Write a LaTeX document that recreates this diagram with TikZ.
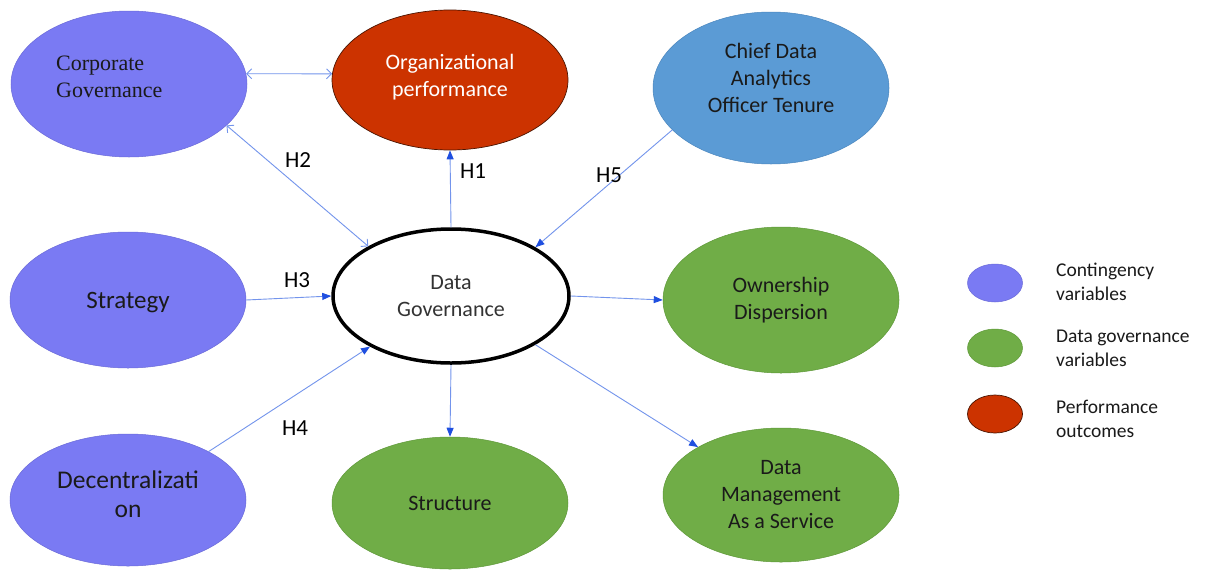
\documentclass[tikz,border=0pt]{standalone}
\usepackage{fontspec}
\setmainfont{Carlito}
\newfontfamily\serifface{Liberation Serif}
\usetikzlibrary{shapes.geometric,arrows.meta,calc}
\definecolor{contc}{HTML}{7A7AF3}
\definecolor{contb}{HTML}{6A6AD8}
\definecolor{perfc}{HTML}{CC3300}
\definecolor{perfb}{HTML}{4A1400}
\definecolor{ceoc}{HTML}{5B9BD5}
\definecolor{ceob}{HTML}{4A86BE}
\definecolor{dgvc}{HTML}{70AD47}
\definecolor{dgvb}{HTML}{5E9838}
\definecolor{linec}{HTML}{7394EC}
\definecolor{headc}{HTML}{1F4FE0}
\definecolor{inkc}{HTML}{1A1A1A}
\newcommand{\fsz}[2]{\fontsize{#1pt}{#2pt}\selectfont}
\tikzset{
  oval/.style={ellipse, inner sep=0pt, align=center, text=inkc,
    minimum width=236pt, minimum height=#1, font=\fsz{22}{27}},
  caption/.style={align=center, inner sep=0pt, text=inkc, font=\fsz{22}{27}},
  contv/.style={fill=contc, draw=contb, line width=0.5pt},
  perfv/.style={fill=perfc, draw=perfb, line width=0.7pt},
  ceov/.style={fill=ceoc, draw=ceob, line width=0.5pt},
  dgv/.style={fill=dgvc, draw=dgvb, line width=0.5pt},
  link/.style={draw=linec, line width=0.9pt,
    -{Triangle[length=9pt,width=7pt,color=headc]}},
  twoway/.style={draw=linec, line width=0.9pt,
    {Straight Barb[length=5pt,width=10pt]}-{Straight Barb[length=5pt,width=10pt]}},
  hyp/.style={font=\fsz{23}{27}, text=black, inner sep=0pt},
  legdot/.style={ellipse, minimum width=55pt, minimum height=38pt, inner sep=0pt},
  legtext/.style={anchor=west, align=left, font=\fsz{19.5}{24}, text=inkc, inner sep=0pt}
}
\begin{document}
\begin{tikzpicture}[x=1pt,y=-1pt]
\useasboundingbox[fill=white] (0,0) rectangle (1206,570);

% variables: ellipses
\node[oval=146pt, contv] (cg) at (129,84) {};
\node[oval=140pt, perfv] (org) at (450,80) {};
\node[oval=152pt, ceov] (cdo) at (771,88) {};
\node[oval=136pt, contv] (st) at (128,300) {};
\node[oval=134pt, draw=black, line width=3.5pt, fill=white] (dg) at (451,296) {};
\node[oval=146pt, dgv] (own) at (781,300) {};
\node[oval=132pt, contv] (dec) at (128,500) {};
\node[oval=132pt, dgv] (str) at (450,503) {};
\node[oval=134pt, dgv] (dm) at (781,495) {};

% variables: names
\node[anchor=west, align=left, font=\serifface\fsz{22}{27}, text=inkc, inner sep=0pt]
  (cgtext) at (56,77) {Corporate\\Governance};
\node[caption, text=white] (orgtext) at ($(org)+(0,-3)$) {Organizational\\performance};
\node[caption] (cdotext) at ($(cdo)+(0,-10)$) {Chief Data\\Analytics\\Officer Tenure};
\node[caption, font=\fsz{25}{30}] (sttext) at ($(st)+(0,3)$) {Strategy};
\node[caption, text=black!80] (dgtext) at (dg) {Data\\Governance};
\node[caption] (owntext) at (own) {Ownership\\Dispersion};
\node[caption, font=\fsz{25.5}{29}] (dectext) at ($(dec)+(0,-6)$) {Decentralizati\\on};
\node[caption] (strtext) at (str) {Structure};
\node[caption] (dmtext) at (dm) {Data\\Management\\As a Service};

% connectors
\draw[twoway] (cg.5) -- (org.177);
\draw[twoway] (cg.-23) -- (dg.149);
\draw[link] (dg.north) -- (org.south);
\draw[link] (cdo.-157) -- (dg.30);
\draw[link] (st.east) -- (dg.west);
\draw[link] (dec.31) -- (dg.-148);
\draw[link] (dg.east) -- (own.west);
\draw[link] (dg.south) -- (str.north);
\draw[link] (dg.-30) -- (dm.150);

% hypothesis labels
\node[hyp] (h1) at (473,171) {H1};
\node[hyp] (h2) at (298,160) {H2};
\node[hyp] (h3) at (297,280) {H3};
\node[hyp] (h4) at (295,428) {H4};
\node[hyp] (h5) at (609,175) {H5};

% legend
\node[legdot, contv] (lg1) at (995,283) {};
\node[legdot, dgv] (lg2) at (995,348) {};
\node[legdot, perfv] (lg3) at (995,414) {};
\node[legtext] (lt1) at (1056,282) {Contingency\\variables};
\node[legtext] (lt2) at (1056,348) {Data governance\\variables};
\node[legtext] (lt3) at (1056,419) {Performance\\outcomes};
\end{tikzpicture}
\end{document}
